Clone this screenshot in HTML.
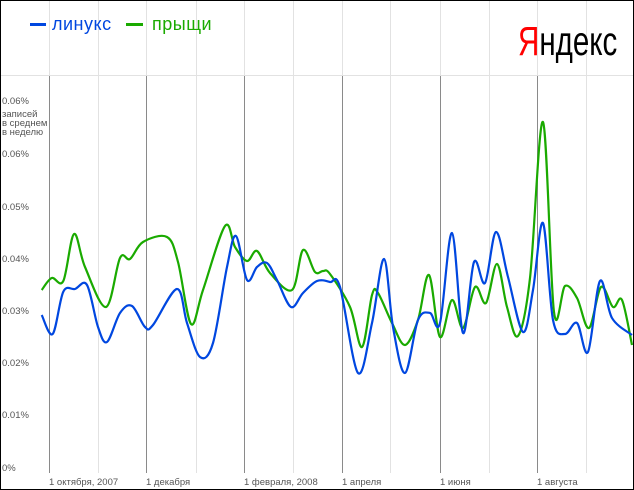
<!DOCTYPE html><html><head><meta charset="utf-8"><style>
body{margin:0;background:#fff}
svg{display:block}
text{font-family:"Liberation Sans",sans-serif}
</style></head><body>
<svg id="s" width="634" height="490" xmlns="http://www.w3.org/2000/svg">
<rect x="0.5" y="0.5" width="633" height="489" fill="#fff" stroke="#000"/>
<g stroke="#e2e2e2" stroke-width="1">
<line x1="49.5" y1="1" x2="49.5" y2="75"/><line x1="98.5" y1="1" x2="98.5" y2="473"/>
<line x1="146.5" y1="1" x2="146.5" y2="75"/><line x1="196.5" y1="1" x2="196.5" y2="473"/>
<line x1="244.5" y1="1" x2="244.5" y2="75"/><line x1="293.5" y1="1" x2="293.5" y2="473"/>
<line x1="342.5" y1="1" x2="342.5" y2="75"/><line x1="390.5" y1="1" x2="390.5" y2="473"/>
<line x1="440.5" y1="1" x2="440.5" y2="75"/><line x1="489.5" y1="1" x2="489.5" y2="473"/>
<line x1="537.5" y1="1" x2="537.5" y2="75"/><line x1="586.5" y1="1" x2="586.5" y2="473"/>
<line x1="1" y1="75.5" x2="633" y2="75.5"/>
</g>
<g stroke="#8a8a8a" stroke-width="1">
<line x1="49.5" y1="76" x2="49.5" y2="473"/><line x1="146.5" y1="76" x2="146.5" y2="473"/>
<line x1="244.5" y1="76" x2="244.5" y2="473"/><line x1="342.5" y1="76" x2="342.5" y2="473"/>
<line x1="440.5" y1="76" x2="440.5" y2="473"/><line x1="537.5" y1="76" x2="537.5" y2="473"/>
</g>
<g font-size="9.5" fill="#555">
<text x="2" y="104">0.06%</text>
<text x="2" y="117">записей</text>
<text x="2" y="126">в среднем</text>
<text x="2" y="135">в неделю</text>
<text x="2" y="157">0.06%</text>
<text x="2" y="210">0.05%</text>
<text x="2" y="262">0.04%</text>
<text x="2" y="314">0.03%</text>
<text x="2" y="366">0.02%</text>
<text x="2" y="418">0.01%</text>
<text x="2" y="471">0%</text>
<text x="49" y="485">1 октября, 2007</text>
<text x="146" y="485">1 декабря</text>
<text x="244" y="485">1 февраля, 2008</text>
<text x="342" y="485">1 апреля</text>
<text x="440" y="485">1 июня</text>
<text x="537" y="485">1 августа</text>
</g>
<rect x="30" y="23" width="16" height="3" fill="#0047e0"/>
<text x="52" y="30" font-size="18" fill="#0047e0" letter-spacing="0.5">линукс</text>
<rect x="126" y="23" width="17" height="3" fill="#1aaa00"/>
<text x="152" y="30" font-size="18" fill="#1aaa00" letter-spacing="0.5">прыщи</text>
<text transform="translate(518,55) scale(0.72,1)" font-size="41"><tspan fill="#f00">Я</tspan><tspan fill="#000">ндекс</tspan></text>
<path id="g" fill="none" stroke="#1aaa00" stroke-width="2.2"/>
<path id="b" fill="none" stroke="#0047e0" stroke-width="2.2"/>
</svg>
<script>
function sm(p){let d="M"+p[0][0]+","+p[0][1];for(let i=0;i<p.length-1;i++){const a=p[i-1]||p[i],b=p[i],c=p[i+1],e=p[i+2]||c;const t=6;d+=" C"+(b[0]+(c[0]-a[0])/t)+","+(b[1]+(c[1]-a[1])/t)+" "+(c[0]-(e[0]-b[0])/t)+","+(c[1]-(e[1]-b[1])/t)+" "+c[0]+","+c[1];}return d;}
const B=[[41.7,315],[52.7,334],[63.3,291.7],[75,289],[87,285],[98,327],[107,342],[120,313],[132,306],[145,327],[153,325],[177,289],[187,323],[200,357],[213,343],[227,267],[236,236],[247,280],[257,267],[267,263],[277,280],[291,307],[303,293],[317,281],[330,282],[340,287],[358,373],[372,323],[384,259],[393,327],[405,373],[418,320],[430,313],[440,323],[452,233],[463,333],[474,262],[485,283],[496,232],[508,277],[523,332],[533,290],[543,223],[553,320],[565,334],[577,323],[588,352],[600,281],[612,318],[632,335]];
const G=[[41.7,290],[51.7,278],[63.3,281],[74,234],[85,267],[106,307],[120,258],[130,259],[143,242],[167,237],[178,262],[191,324],[203,290],[225,226],[235,247],[247,261],[257,251],[270,273],[292,290],[303,250],[315,272],[323,271],[330,274],[350,307],[362,347],[372,295],[378,293],[392,323],[405,345],[418,320],[429,275],[440,337],[452,300],[463,328],[475,287],[486,303],[497,264],[507,307],[518,336],[530,278],[543,122],[554,312],[565,286],[577,298],[589,328],[601,287],[613,307],[622,300],[632,345]];
document.getElementById("b").setAttribute("d",sm(B));
document.getElementById("g").setAttribute("d",sm(G));
</script>
</body></html>
